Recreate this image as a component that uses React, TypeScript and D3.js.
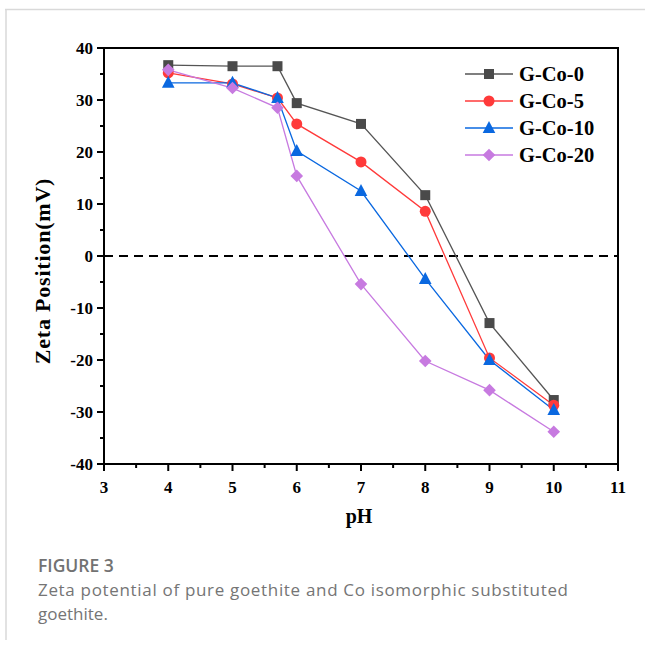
import React from "react";
import * as d3 from "d3";

const phValues = [4, 5, 5.7, 6, 7, 8, 9, 10];
const gCo0 = [36.7, 36.5, 36.5, 29.4, 25.4, 11.7, -12.9, -27.7];
const gCo5 = [35.2, 33.1, 30.4, 25.4, 18.1, 8.6, -19.6, -28.7];
const gCo10 = [33.3, 33.3, 30.4, 20.2, 12.5, -4.4, -20.0, -29.6];
const gCo20 = [35.8, 32.3, 28.5, 15.4, -5.4, -20.2, -25.8, -33.8];
const seriesNames = ["G-Co-0", "G-Co-5", "G-Co-10", "G-Co-20"];
const xTicks = [3, 4, 5, 6, 7, 8, 9, 10, 11];
const yTicks = [-40, -30, -20, -10, 0, 10, 20, 30, 40];

const series = [
  { name: seriesNames[0], values: gCo0, color: "#4a4a4a", line: "#555555", shape: "square" },
  { name: seriesNames[1], values: gCo5, color: "#ff3a3a", line: "#ff3a3a", shape: "circle" },
  { name: seriesNames[2], values: gCo10, color: "#0a68e0", line: "#0a68e0", shape: "triangle" },
  { name: seriesNames[3], values: gCo20, color: "#c77ae0", line: "#c77ae0", shape: "diamond" },
];

const L = 104, R = 618, T = 48, B = 464;
const x = d3.scaleLinear().domain([3, 11]).range([L, R]);
const y = d3.scaleLinear().domain([-40, 40]).range([B, T]);

function Marker({ shape, cx, cy, color }: any) {
  if (shape === "square") return <rect x={cx - 5} y={cy - 5} width={10} height={10} fill={color} />;
  if (shape === "circle") return <circle cx={cx} cy={cy} r={5.5} fill={color} />;
  if (shape === "triangle")
    return <path d={`M${cx},${cy - 7} L${cx + 6.3},${cy + 5} L${cx - 6.3},${cy + 5} Z`} fill={color} />;
  return <path d={`M${cx},${cy - 6.3} L${cx + 6.3},${cy} L${cx},${cy + 6.3} L${cx - 6.3},${cy} Z`} fill={color} />;
}

export default function App() {
  const line = d3.line<number>().x((_, i) => x(phValues[i])).y((d) => y(d));
  const serif = "'Liberation Serif', 'Times New Roman', serif";
  const sans = "'Open Sans', 'Noto Sans', sans-serif";
  const minorX = d3.range(3.5, 11, 1);
  const minorY = d3.range(-35, 40, 10);
  return (
    <svg width={645} height={646} style={{ display: "block", position: "absolute", left: 0, top: 0 }}>
      <rect x={0} y={0} width={645} height={646} fill="#fff" />
      <line x1={5} y1={9.5} x2={645} y2={9.5} stroke="#d9d9d9" strokeWidth={1.5} />
      <line x1={6} y1={9} x2={6} y2={640} stroke="#d9d9d9" strokeWidth={1.5} />
      {/* zero dashed line */}
      <line x1={L} x2={R} y1={y(0)} y2={y(0)} stroke="#000" strokeWidth={2} strokeDasharray="9,6" />
      {/* series lines */}
      {series.map((s) => (
        <path key={s.name} d={line(s.values) || ""} fill="none" stroke={s.line} strokeWidth={1.3} />
      ))}
      {series.map((s) =>
        s.values.map((v, i) => (
          <Marker key={s.name + i} shape={s.shape} cx={x(phValues[i])} cy={y(v)} color={s.color} />
        ))
      )}
      {/* frame */}
      <rect x={L} y={T} width={R - L} height={B - T} fill="none" stroke="#000" strokeWidth={2} />
      {/* x ticks */}
      {xTicks.map((t) => (
        <g key={"x" + t}>
          <line x1={x(t)} x2={x(t)} y1={B} y2={B + 7} stroke="#000" strokeWidth={2} />
          <text x={x(t)} y={B + 29} textAnchor="middle" fontFamily={serif} fontWeight="bold" fontSize={17}>
            {t}
          </text>
        </g>
      ))}
      {minorX.map((t) => (
        <line key={"mx" + t} x1={x(t)} x2={x(t)} y1={B} y2={B + 4} stroke="#000" strokeWidth={2} />
      ))}
      {/* y ticks */}
      {yTicks.map((t) => (
        <g key={"y" + t}>
          <line x1={L - 7} x2={L} y1={y(t)} y2={y(t)} stroke="#000" strokeWidth={2} />
          <text x={L - 11} y={y(t) + 6} textAnchor="end" fontFamily={serif} fontWeight="bold" fontSize={17}>
            {t}
          </text>
        </g>
      ))}
      {minorY.map((t) => (
        <line key={"my" + t} x1={L - 4} x2={L} y1={y(t)} y2={y(t)} stroke="#000" strokeWidth={2} />
      ))}
      {/* axis titles */}
      <text x={359} y={523} textAnchor="middle" fontFamily={serif} fontWeight="bold" fontSize={20}>
        pH
      </text>
      <text
        transform={`translate(50,271) rotate(-90)`}
        textAnchor="middle"
        fontFamily={serif}
        fontWeight="bold"
        fontSize={22}
        letterSpacing={0.8}
      >
        Zeta Position(mV)
      </text>
      {/* legend */}
      {series.map((s, i) => {
        const ly = 74 + i * 27;
        return (
          <g key={"lg" + s.name}>
            <line x1={465} x2={513} y1={ly} y2={ly} stroke={s.line} strokeWidth={1.3} />
            <Marker shape={s.shape} cx={489} cy={ly} color={s.color} />
            <text x={519} y={ly + 7} fontFamily={serif} fontWeight="bold" fontSize={20.5}>
              {s.name}
            </text>
          </g>
        );
      })}
      {/* caption */}
      <text x={38} y={572} fontFamily={sans} fontWeight={600} fontSize={17.5} fill="#727272">
        FIGURE 3
      </text>
      <text x={38} y={596} fontFamily={sans} fontSize={17} fill="#757575" textLength={530} lengthAdjust="spacing">
        Zeta potential of pure goethite and Co isomorphic substituted
      </text>
      <text x={38} y={620} fontFamily={sans} fontSize={17} fill="#757575">
        goethite.
      </text>
    </svg>
  );
}
